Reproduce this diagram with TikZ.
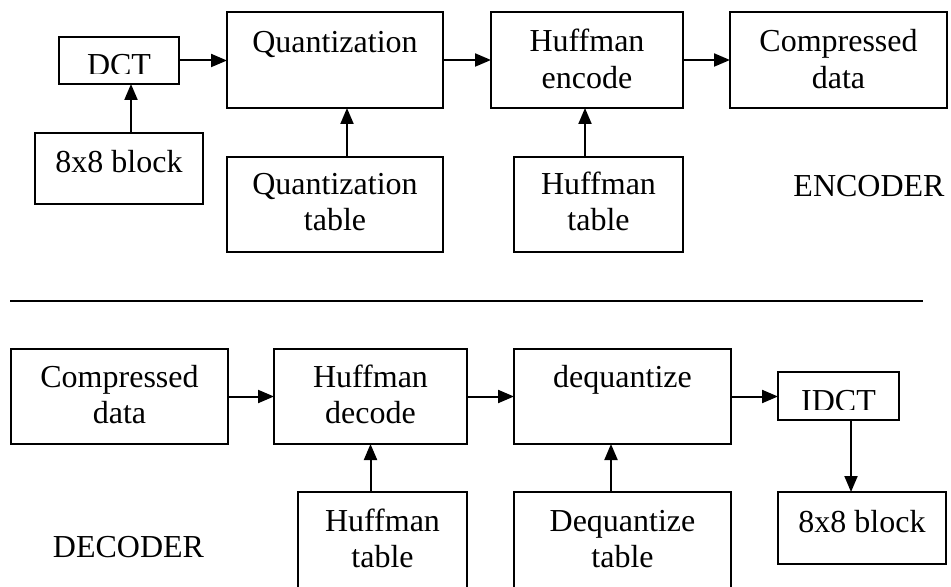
\documentclass[tikz,border=0pt]{standalone}
\usepackage{fontspec}
\setmainfont{Liberation Serif}
\usetikzlibrary{arrows.meta,fit}

\begin{document}
\begin{tikzpicture}[
  x=0.5pt, y=-0.5pt,
  font=\fontsize{16}{18.25}\selectfont,
  box/.style={draw, line width=1pt, inner sep=0pt, outer sep=0pt, rectangle},
  lbl/.style={anchor=base, inner sep=0pt, outer sep=0pt},
  arr/.style={line width=1pt, -{Triangle[length=8pt,width=6.5pt]}},
]
\useasboundingbox (0,0) rectangle (951,587);
\clip (0,0) rectangle (951,587);

% ---------------- encoder ----------------
\node[box, fit={(59,37) (179,84)}]   (dct)   {};
\node[box, fit={(227,12) (443,108)}] (quant) {};
\node[box, fit={(491,12) (683,108)}] (henc)  {};
\node[box, fit={(730,12) (947,108)}] (comp1) {};
\node[box, fit={(35,133) (203,204)}] (blk1)  {};
\node[box, fit={(227,157) (443,252)}] (qtab) {};
\node[box, fit={(514,157) (683,252)}] (htab1) {};

\begin{scope}
  \clip (dct.north west) rectangle ([yshift=5pt]dct.south east);
  \node[lbl] (dct-t) at ([yshift=-19.5pt]dct.north) {DCT};
\end{scope}
\node[lbl] (quant-t) at ([yshift=-20.5pt]quant.north) {Quantization};
\node[lbl] (henc-t)  at ([yshift=-20pt]henc.north)
  {\begin{tabular}[t]{@{}c@{}}Huffman\\encode\end{tabular}};
\node[lbl] (comp1-t) at ([yshift=-20pt]comp1.north)
  {\begin{tabular}[t]{@{}c@{}}Compressed\\data\end{tabular}};
\node[lbl] (blk1-t)  at ([yshift=-20pt]blk1.north) {8x8 block};
\node[lbl] (qtab-t)  at ([yshift=-18.75pt]qtab.north)
  {\begin{tabular}[t]{@{}c@{}}Quantization\\table\end{tabular}};
\node[lbl] (htab1-t) at ([yshift=-18.75pt]htab1.north)
  {\begin{tabular}[t]{@{}c@{}}Huffman\\table\end{tabular}};
\node[lbl] (enc) at (869,197) {ENCODER};

\draw[arr] (dct.east) -- (dct.east -| quant.west);
\draw[arr] (quant.east) -- (henc.west);
\draw[arr] (henc.east) -- (comp1.west);
\draw[arr] ([xshift=6pt]blk1.north) -- ([xshift=6pt]dct.south);
\draw[arr] ([xshift=6pt]qtab.north) -- ([xshift=6pt]quant.south);
\draw[arr] ([xshift=-1pt]henc.south |- htab1.north) -- ([xshift=-1pt]henc.south);

% ---------------- separator ----------------
\draw[line width=1pt] (10,301) -- (923,301);

% ---------------- decoder ----------------
\node[box, fit={(11,349) (228,444)}]  (comp2) {};
\node[box, fit={(274,349) (467,444)}] (hdec)  {};
\node[box, fit={(514,349) (731,444)}] (deq)   {};
\node[box, fit={(778,372) (899,420)}] (idct)  {};
\node[box, fit={(778,492) (946,564)}] (blk2)  {};
\node[box, fit={(298,492) (467,600)}] (htab2) {};
\node[box, fit={(514,492) (731,600)}] (dtab)  {};

\node[lbl] (comp2-t) at ([yshift=-19pt]comp2.north)
  {\begin{tabular}[t]{@{}c@{}}Compressed\\data\end{tabular}};
\node[lbl] (hdec-t)  at ([yshift=-19pt]hdec.north)
  {\begin{tabular}[t]{@{}c@{}}Huffman\\decode\end{tabular}};
\node[lbl] (deq-t)   at ([yshift=-19pt]deq.north) {dequantize};
\begin{scope}
  \clip (idct.north west) rectangle ([yshift=5.5pt]idct.south east);
  \node[lbl] (idct-t) at ([yshift=-19.5pt]idct.north) {IDCT};
\end{scope}
\node[lbl] (blk2-t)  at ([yshift=-20pt]blk2.north) {8x8 block};
\node[lbl] (htab2-t) at ([yshift=-19.5pt]htab2.north)
  {\begin{tabular}[t]{@{}c@{}}Huffman\\table\end{tabular}};
\node[lbl] (dtab-t)  at ([yshift=-19.5pt]dtab.north)
  {\begin{tabular}[t]{@{}c@{}}Dequantize\\table\end{tabular}};
\node[lbl] (dec) at (128.5,557) {DECODER};

\draw[arr] (comp2.east) -- (comp2.east -| hdec.west);
\draw[arr] (hdec.east) -- (hdec.east -| deq.west);
\draw[arr] (deq.east) -- (deq.east -| idct.west);
\draw[arr] (hdec.south |- htab2.north) -- (hdec.south);
\draw[arr] ([xshift=-5.75pt]dtab.north) -- ([xshift=-5.75pt]deq.south);
\draw[arr] ([xshift=6.25pt]idct.south) -- ([xshift=6.25pt]idct.south |- blk2.north);
\end{tikzpicture}
\end{document}
